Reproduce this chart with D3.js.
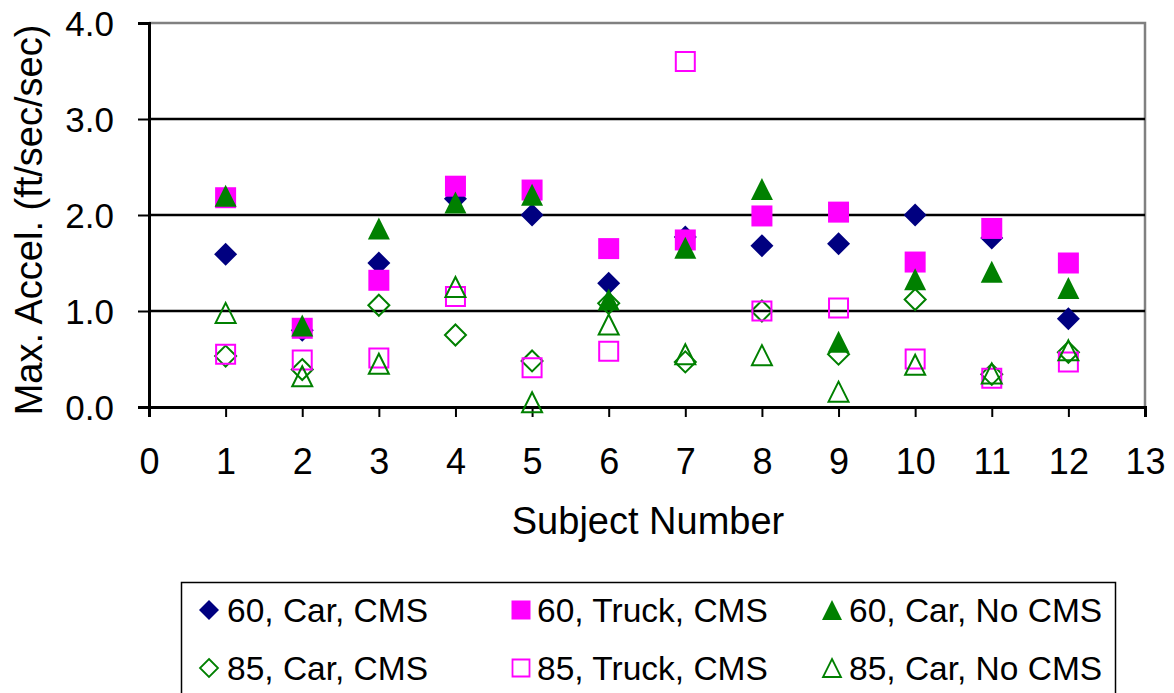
<!DOCTYPE html>
<html>
<head>
<meta charset="utf-8">
<script src="https://cdn.jsdelivr.net/npm/d3@7"></script>
<style>
  html, body { margin: 0; padding: 0; background: #fff; }
  svg, svg text { font-family: Arial, "Liberation Sans", Helvetica, sans-serif; }
  svg { display: block; }
</style>
</head>
<body>
<svg id="chart" width="1174" height="693"></svg>
<script>
// ---- data ----
const subjects = [1, 2, 3, 4, 5, 6, 7, 8, 9, 10, 11, 12];
const car60CMS    = [1.59, 0.80, 1.50, 2.17, 2.00, 1.29, 1.77, 1.68, 1.70, 2.00, 1.76, 0.92];
const truck60CMS  = [2.18, 0.82, 1.32, 2.30, 2.26, 1.65, 1.74, 1.99, 2.03, 1.51, 1.86, 1.50];
const car60NoCMS  = [2.20, 0.85, 1.86, 2.13, 2.21, 1.12, 1.66, 2.27, 0.68, 1.33, 1.41, 1.24];
const car85CMS    = [0.53, 0.39, 1.06, 0.75, 0.48, 1.08, 0.47, 1.00, 0.55, 1.12, 0.34, 0.57];
const truck85CMS  = [0.55, 0.49, 0.51, 1.15, 0.41, 0.58, 3.60, 1.00, 1.03, 0.50, 0.30, 0.47];
const car85NoCMS  = [0.98, 0.32, 0.45, 1.25, 0.05, 0.86, 0.55, 0.54, 0.16, 0.44, 0.35, 0.59];
const seriesNames = ["60, Car, CMS", "60, Truck, CMS", "60, Car, No CMS",
                     "85, Car, CMS", "85, Truck, CMS", "85, Car, No CMS"];
const xTicks = [0, 1, 2, 3, 4, 5, 6, 7, 8, 9, 10, 11, 12, 13];
const yTicks = [0, 1, 2, 3, 4];
const xTitle = "Subject Number";
const yTitle = "Max. Accel. (ft/sec/sec)";

const seriesValues = [car60CMS, truck60CMS, car60NoCMS, car85CMS, truck85CMS, car85NoCMS];
const seriesStyle = [
  { shape: "diamond",  color: "#000080", filled: true },
  { shape: "square",   color: "#FF00FF", filled: true },
  { shape: "triangle", color: "#008000", filled: true },
  { shape: "diamond",  color: "#008000", filled: false },
  { shape: "square",   color: "#FF00FF", filled: false },
  { shape: "triangle", color: "#008000", filled: false }
];

// ---- layout ----
const FONT = "Arial, 'Liberation Sans', Helvetica, sans-serif";
const svg = d3.select("#chart");
const pL = 149, pR = 1145, pT = 23, pB = 407;
const x = d3.scaleLinear().domain([0, 13]).range([pL, pR]);
const y = d3.scaleLinear().domain([0, 4]).range([pB, pT]);

function shapePath(shape, s) {
  const h = s / 2;
  if (shape === "diamond") return `M0,${-h}L${h},0L0,${h}L${-h},0Z`;
  if (shape === "square") return `M${-h},${-h}H${h}V${h}H${-h}Z`;
  // triangle centered in its bounding box
  return `M0,${-h}L${h},${h}L${-h},${h}Z`;
}
const plotSize = { diamond: 23, square: 21, triangle: 22 };

// plot frame (top and right in gray)
svg.append("path")
  .attr("d", `M${pL},${pT}H${pR}V${pB}`)
  .attr("fill", "none").attr("stroke", "#808080").attr("stroke-width", 2.5);

// gridlines
svg.append("g").selectAll("line")
  .data(yTicks.filter(v => v > 0 && v < 4))
  .join("line")
  .attr("x1", pL).attr("x2", pR)
  .attr("y1", d => y(d)).attr("y2", d => y(d))
  .attr("stroke", "#000").attr("stroke-width", 2.5);

// axes
const yAxis = d3.axisLeft(y).tickValues(yTicks).tickFormat(d3.format(".1f"))
  .tickSize(11).tickPadding(24);
const gy = svg.append("g").attr("transform", `translate(${pL},0)`).call(yAxis)
  .attr("font-family", FONT);
gy.select(".domain").attr("stroke", "#000").attr("stroke-width", 3);
gy.selectAll(".tick line").attr("stroke", "#000").attr("stroke-width", 2);
gy.selectAll(".tick text").attr("font-size", 35).attr("fill", "#000")
  .attr("font-family", FONT).attr("dy", "0.37em");

const xAxis = d3.axisBottom(x).tickValues(xTicks).tickFormat(d3.format("d"))
  .tickSize(10).tickPadding(31);
const gx = svg.append("g").attr("transform", `translate(0,${pB})`).call(xAxis)
  .attr("font-family", FONT);
gx.select(".domain").attr("stroke", "#000").attr("stroke-width", 3);
gx.selectAll(".tick line").attr("stroke", "#000").attr("stroke-width", 2);
gx.selectAll(".tick text").attr("font-size", 36).attr("fill", "#000")
  .attr("font-family", FONT);

// titles
svg.append("text").attr("x", 648).attr("y", 534).attr("text-anchor", "middle")
  .attr("font-family", FONT).attr("font-size", 38).attr("fill", "#000").text(xTitle);
svg.append("text").attr("transform", "translate(42,220) rotate(-90)")
  .attr("font-family", FONT)
  .attr("text-anchor", "middle").attr("font-size", 38).attr("fill", "#000").text(yTitle);

// markers
seriesValues.forEach((vals, i) => {
  const st = seriesStyle[i];
  const s = st.filled ? plotSize[st.shape] : plotSize[st.shape] - 2;
  svg.append("g").selectAll("path")
    .data(vals.map((v, j) => ({ x: subjects[j], v })))
    .join("path")
    .attr("transform", d => `translate(${x(d.x)},${y(d.v)})`)
    .attr("d", shapePath(st.shape, s))
    .attr("fill", st.filled ? st.color : "none")
    .attr("stroke", st.filled ? "none" : st.color)
    .attr("stroke-width", st.filled ? 0 : 2);
});

// legend
svg.append("rect").attr("x", 181.5).attr("y", 582.5).attr("width", 934).attr("height", 140)
  .attr("fill", "#fff").attr("stroke", "#000").attr("stroke-width", 1.5);
const legCols = [209, 521, 832];
const legText = [227, 537, 849];
const legRows = [610, 668];
const legSize = { diamond: 20, square: 19, triangle: 20 };
seriesNames.forEach((name, i) => {
  const st = seriesStyle[i];
  const c = i % 3, r = Math.floor(i / 3);
  const s = st.filled ? legSize[st.shape] : legSize[st.shape] - 2;
  svg.append("path")
    .attr("transform", `translate(${legCols[c]},${legRows[r]})`)
    .attr("d", shapePath(st.shape, s))
    .attr("fill", st.filled ? st.color : "none")
    .attr("stroke", st.filled ? "none" : st.color)
    .attr("stroke-width", st.filled ? 0 : 1.8);
  svg.append("text").attr("x", legText[c]).attr("y", legRows[r] + 12)
    .attr("font-family", FONT).attr("font-size", 33.5).attr("fill", "#000").text(name);
});
</script>
</body>
</html>
